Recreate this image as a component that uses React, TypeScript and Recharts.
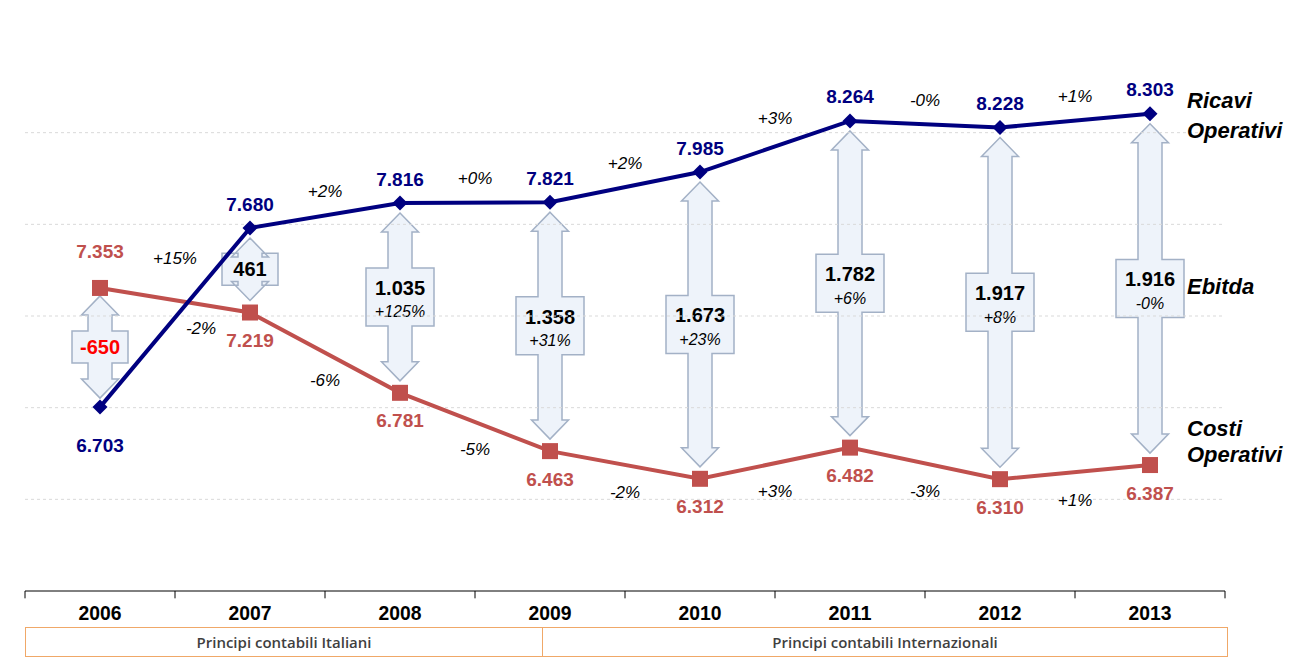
import React from 'react';
import { ComposedChart, Line, Bar, Scatter, XAxis, YAxis, LabelList, ReferenceLine } from 'recharts';

document.body.style.margin = '0';

const years = ['2006', '2007', '2008', '2009', '2010', '2011', '2012', '2013'];
const ricavi = [6.703, 7.68, 7.816, 7.821, 7.985, 8.264, 8.228, 8.303];
const costi = [7.353, 7.219, 6.781, 6.463, 6.312, 6.482, 6.31, 6.387];
const ebitdaText = ['-650', '461', '1.035', '1.358', '1.673', '1.782', '1.917', '1.916'];
const ebitdaPct = ['', '', '+125%', '+31%', '+23%', '+6%', '+8%', '-0%'];
const ricaviPct = ['+15%', '+2%', '+0%', '+2%', '+3%', '-0%', '+1%'];
const costiPct = ['-2%', '-6%', '-5%', '-2%', '+3%', '-3%', '+1%'];
const gridValues = [6.2, 6.7, 7.2, 7.7, 8.2];
const bandEdges = [-0.5, 0.5, 1.5, 2.5, 3.5, 4.5, 5.5, 6.5, 7.5];
const yearTicks = [0, 1, 2, 3, 4, 5, 6, 7];
const Y_MIN = 5.7;
const Y_MAX = 8.7;

const NAVY = '#000080';
const RED = '#c0504d';
const FONT = '"Liberation Sans", Arial, sans-serif';
const ARROW_FILL = '#eef3fa';
const ARROW_LINE = '#a3b1c6';

const data = years.map((year, i) => ({
  i,
  year,
  ricavi: ricavi[i],
  costi: costi[i],
  ebitda: [Math.min(ricavi[i], costi[i]), Math.max(ricavi[i], costi[i])],
}));

// label anchors halfway along each segment
const ricaviSteps = ricaviPct.map((t, k) => ({
  i: k + 0.5,
  y: (ricavi[k] + ricavi[k + 1]) / 2,
  d: Math.abs(ricavi[k + 1] - ricavi[k]),
  t,
}));
const costiSteps = costiPct.map((t, k) => ({
  i: k + 0.5,
  y: (costi[k] + costi[k + 1]) / 2,
  // lines cross on this segment -> push the label sideways
  cross: Math.sign(ricavi[k] - costi[k]) !== Math.sign(ricavi[k + 1] - costi[k + 1]),
  t,
}));

const Diamond = (p: any) => {
  const { cx, cy } = p;
  if (cx == null || cy == null) return <g />;
  const r = 7.5;
  return <polygon points={`${cx},${cy - r} ${cx + r},${cy} ${cx},${cy + r} ${cx - r},${cy}`} fill={NAVY} />;
};

const Square = (p: any) => {
  const { cx, cy } = p;
  if (cx == null || cy == null) return <g />;
  return <rect x={cx - 8} y={cy - 8} width={16} height={16} fill={RED} />;
};

const ricaviLabel = (p: any) => {
  const { x, y, index } = p;
  const above = ricavi[index] >= costi[index];
  const last = index === years.length - 1;
  return (
    <g>
      <text x={x} y={above ? y - 24 : y + 38} textAnchor="middle" dominantBaseline="central"
        fontFamily={FONT} fontWeight="bold" fontSize={19} fill={NAVY}>
        {ricavi[index].toFixed(3)}
      </text>
      {last && (
        <text x={x + 37} y={y} fontFamily={FONT} fontWeight="bold" fontStyle="italic" fontSize={22} fill="#000">
          <tspan x={x + 37} dy={-6}>Ricavi</tspan>
          <tspan x={x + 37} dy={30}>Operativi</tspan>
        </text>
      )}
    </g>
  );
};

const costiLabel = (p: any) => {
  const { x, y, index } = p;
  const above = costi[index] > ricavi[index];
  const last = index === years.length - 1;
  return (
    <g>
      <text x={x} y={above ? y - 36 : y + 28} textAnchor="middle" dominantBaseline="central"
        fontFamily={FONT} fontWeight="bold" fontSize={19} fill={RED}>
        {costi[index].toFixed(3)}
      </text>
      {last && (
        <text x={x + 37} y={y} fontFamily={FONT} fontWeight="bold" fontStyle="italic" fontSize={22} fill="#000">
          <tspan x={x + 37} dy={-29}>Costi</tspan>
          <tspan x={x + 37} dy={26}>Operativi</tspan>
        </text>
      )}
    </g>
  );
};

const RicaviStep = (p: any) => {
  const { cx, cy, payload } = p;
  const off = 24 + Math.max(0, payload.d - 0.2) * 45;
  return (
    <text x={cx} y={cy - off} textAnchor="middle" dominantBaseline="central"
      fontFamily={FONT} fontStyle="italic" fontSize={17} fill="#000">
      {payload.t}
    </text>
  );
};

const CostiStep = (p: any) => {
  const { cx, cy, payload } = p;
  return (
    <text x={cx + (payload.cross ? 26 : 0)} y={cy + 28} textAnchor="middle" dominantBaseline="central"
      fontFamily={FONT} fontStyle="italic" fontSize={17} fill="#000">
      {payload.t}
    </text>
  );
};

const EbitdaArrow = (p: any) => {
  const { x, y, width, height, index } = p;
  if (x == null || y == null) return <g />;
  const cx = x + width / 2;
  const ricaviOnTop = ricavi[index] >= costi[index];
  const top = y + (ricaviOnTop ? 10 : 8);
  const bot = y + height - (ricaviOnTop ? 12 : 9);
  const hw = 18.5;
  const sw = 12;
  const hh = 19;
  const two = ebitdaPct[index] !== '';
  const bw = two ? 34 : 28;
  const bh = two ? 29 : 16;
  const mid = (top + bot) / 2;
  const pts = [
    [cx, top], [cx + hw, top + hh], [cx + sw, top + hh], [cx + sw, mid - bh], [cx + bw, mid - bh],
    [cx + bw, mid + bh], [cx + sw, mid + bh], [cx + sw, bot - hh], [cx + hw, bot - hh], [cx, bot],
    [cx - hw, bot - hh], [cx - sw, bot - hh], [cx - sw, mid + bh], [cx - bw, mid + bh], [cx - bw, mid - bh],
    [cx - sw, mid - bh], [cx - sw, top + hh], [cx - hw, top + hh],
  ].map((q) => q.join(',')).join(' ');
  const last = index === years.length - 1;
  return (
    <g>
      <polygon points={pts} fill={ARROW_FILL} stroke={ARROW_LINE} strokeWidth={1.5} />
      <text x={cx} y={two ? mid - 9 : mid} textAnchor="middle" dominantBaseline="central"
        fontFamily={FONT} fontWeight="bold" fontSize={20} fill={index === 0 ? '#ff0000' : '#000'}>
        {ebitdaText[index]}
      </text>
      {two && (
        <text x={cx} y={mid + 15} textAnchor="middle" dominantBaseline="central"
          fontFamily={FONT} fontStyle="italic" fontSize={16} fill="#000">
          {ebitdaPct[index]}
        </text>
      )}
      {last && (
        <text x={cx + 37} y={mid - 2} dominantBaseline="central" fontFamily={FONT} fontWeight="bold"
          fontStyle="italic" fontSize={22} fill="#000">
          Ebitda
        </text>
      )}
    </g>
  );
};

const YearTick = (p: any) => {
  const { x, y, payload } = p;
  return (
    <text x={x} y={y + 21} textAnchor="middle" dominantBaseline="central" textLength={43}
      lengthAdjust="spacingAndGlyphs" fontFamily={FONT} fontWeight="bold" fontSize={21} fill="#000">
      {years[payload.value]}
    </text>
  );
};

const boxText: React.CSSProperties = {
  position: 'absolute',
  top: 0,
  height: 28,
  lineHeight: '28px',
  textAlign: 'center',
  fontFamily: '"Open Sans", sans-serif',
  fontWeight: 600,
  fontSize: 15,
  color: '#3f3f3f',
};

export default function App() {
  return (
    <div style={{ position: 'relative', width: 1308, height: 665, background: '#fff' }}>
      <ComposedChart width={1308} height={665} data={data} margin={{ top: 41, right: 83, bottom: 0, left: 25 }}>
        <XAxis dataKey="i" type="number" domain={[-0.5, 7.5]} ticks={yearTicks} height={74}
          tickSize={0} tickMargin={0} axisLine={{ stroke: '#000', strokeWidth: 1 }} tickLine={false} tick={YearTick} />
        <YAxis domain={[Y_MIN, Y_MAX]} width={0} tick={false} axisLine={false} tickLine={false} allowDataOverflow />
        {gridValues.map((v) => (
          <ReferenceLine key={`g${v}`} y={v} stroke="#d9d9d9" strokeDasharray="3 3" />
        ))}
        {bandEdges.map((e) => (
          <ReferenceLine key={`t${e}`} segment={[{ x: e, y: Y_MIN }, { x: e, y: Y_MIN - 0.04 }]} stroke="#000"
            ifOverflow="visible" />
        ))}
        <Bar dataKey="ebitda" barSize={37} shape={EbitdaArrow} isAnimationActive={false} />
        <Line dataKey="costi" stroke={RED} strokeWidth={4} dot={Square} activeDot={false} isAnimationActive={false}>
          <LabelList dataKey="costi" content={costiLabel} />
        </Line>
        <Line dataKey="ricavi" stroke={NAVY} strokeWidth={4} dot={Diamond} activeDot={false} isAnimationActive={false}>
          <LabelList dataKey="ricavi" content={ricaviLabel} />
        </Line>
        <Scatter data={ricaviSteps} dataKey="y" shape={RicaviStep} isAnimationActive={false} />
        <Scatter data={costiSteps} dataKey="y" shape={CostiStep} isAnimationActive={false} />
      </ComposedChart>
      <div style={{ position: 'absolute', left: 25, top: 627, width: 1203, height: 30, border: '1px solid #f0a868', boxSizing: 'border-box' }}>
        <div style={{ ...boxText, left: 0, width: 516, borderRight: '1px solid #f0a868' }}>Principi contabili Italiani</div>
        <div style={{ ...boxText, left: 516, width: 686 }}>Principi contabili Internazionali</div>
      </div>
    </div>
  );
}
